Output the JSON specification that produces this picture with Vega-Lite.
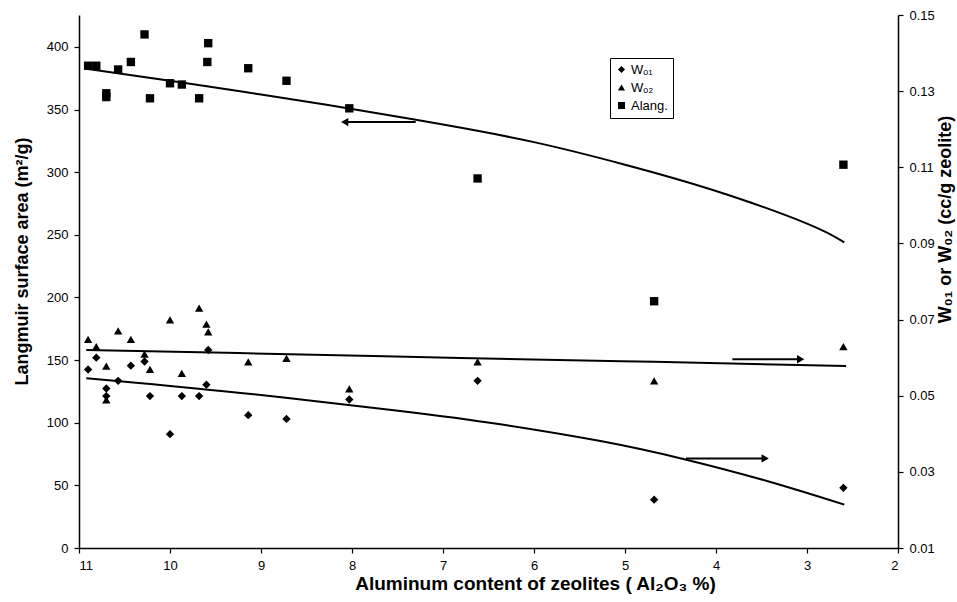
{
  "$schema": "https://vega.github.io/schema/vega-lite/v6.json",
  "width": 819,
  "height": 533,
  "autosize": {"type": "none"},
  "padding": {"left": 79, "top": 15, "right": 59, "bottom": 54},
  "background": "white",
  "config": {
    "view": {"stroke": null},
    "font": "Liberation Sans",
    "axis": {
      "grid": false,
      "domainColor": "black",
      "tickColor": "black",
      "labelColor": "black",
      "titleColor": "black",
      "labelFont": "Liberation Sans",
      "titleFont": "Liberation Sans",
      "labelFontSize": 13,
      "titleFontSize": 18,
      "titleFontWeight": "bold",
      "tickSize": 5,
      "domainWidth": 1.5,
      "tickWidth": 1.2
    }
  },
  "datasets": {
    "pts": [
      {"x": 10.90, "y": 385, "s": "Alang."},
      {"x": 10.81, "y": 385, "s": "Alang."},
      {"x": 10.70, "y": 360, "s": "Alang."},
      {"x": 10.70, "y": 363, "s": "Alang."},
      {"x": 10.57, "y": 382, "s": "Alang."},
      {"x": 10.43, "y": 388, "s": "Alang."},
      {"x": 10.28, "y": 410, "s": "Alang."},
      {"x": 10.22, "y": 359, "s": "Alang."},
      {"x": 10.00, "y": 371, "s": "Alang."},
      {"x": 9.87, "y": 370, "s": "Alang."},
      {"x": 9.68, "y": 359, "s": "Alang."},
      {"x": 9.59, "y": 388, "s": "Alang."},
      {"x": 9.58, "y": 403, "s": "Alang."},
      {"x": 9.14, "y": 383, "s": "Alang."},
      {"x": 8.72, "y": 373, "s": "Alang."},
      {"x": 8.03, "y": 351, "s": "Alang."},
      {"x": 6.62, "y": 295, "s": "Alang."},
      {"x": 4.68, "y": 197, "s": "Alang."},
      {"x": 2.60, "y": 306, "s": "Alang."}
    ],
    "wpts": [
      {"x": 10.90, "w": 0.0569, "s": "Wₒ₁"},
      {"x": 10.81, "w": 0.0600, "s": "Wₒ₁"},
      {"x": 10.70, "w": 0.0519, "s": "Wₒ₁"},
      {"x": 10.70, "w": 0.0499, "s": "Wₒ₁"},
      {"x": 10.57, "w": 0.0539, "s": "Wₒ₁"},
      {"x": 10.43, "w": 0.0579, "s": "Wₒ₁"},
      {"x": 10.28, "w": 0.0590, "s": "Wₒ₁"},
      {"x": 10.22, "w": 0.0499, "s": "Wₒ₁"},
      {"x": 10.00, "w": 0.0399, "s": "Wₒ₁"},
      {"x": 9.87, "w": 0.0499, "s": "Wₒ₁"},
      {"x": 9.68, "w": 0.0499, "s": "Wₒ₁"},
      {"x": 9.60, "w": 0.0529, "s": "Wₒ₁"},
      {"x": 9.58, "w": 0.0620, "s": "Wₒ₁"},
      {"x": 9.14, "w": 0.0449, "s": "Wₒ₁"},
      {"x": 8.72, "w": 0.0439, "s": "Wₒ₁"},
      {"x": 8.03, "w": 0.0490, "s": "Wₒ₁"},
      {"x": 6.62, "w": 0.0539, "s": "Wₒ₁"},
      {"x": 4.68, "w": 0.0227, "s": "Wₒ₁"},
      {"x": 2.60, "w": 0.0258, "s": "Wₒ₁"},
      {"x": 10.90, "w": 0.0648, "s": "Wₒ₂"},
      {"x": 10.81, "w": 0.0629, "s": "Wₒ₂"},
      {"x": 10.70, "w": 0.0578, "s": "Wₒ₂"},
      {"x": 10.70, "w": 0.0489, "s": "Wₒ₂"},
      {"x": 10.57, "w": 0.0670, "s": "Wₒ₂"},
      {"x": 10.43, "w": 0.0648, "s": "Wₒ₂"},
      {"x": 10.28, "w": 0.0609, "s": "Wₒ₂"},
      {"x": 10.22, "w": 0.0569, "s": "Wₒ₂"},
      {"x": 10.00, "w": 0.0699, "s": "Wₒ₂"},
      {"x": 9.87, "w": 0.0559, "s": "Wₒ₂"},
      {"x": 9.68, "w": 0.0730, "s": "Wₒ₂"},
      {"x": 9.60, "w": 0.0688, "s": "Wₒ₂"},
      {"x": 9.58, "w": 0.0668, "s": "Wₒ₂"},
      {"x": 9.14, "w": 0.0589, "s": "Wₒ₂"},
      {"x": 8.72, "w": 0.0598, "s": "Wₒ₂"},
      {"x": 8.03, "w": 0.0518, "s": "Wₒ₂"},
      {"x": 6.62, "w": 0.0589, "s": "Wₒ₂"},
      {"x": 4.68, "w": 0.0539, "s": "Wₒ₂"},
      {"x": 2.60, "w": 0.0629, "s": "Wₒ₂"}
    ],
    "afit": [
      {"x": 10.92, "y": 382.5},
      {"x": 10.0, "y": 373},
      {"x": 9.0, "y": 362},
      {"x": 8.0, "y": 350.5},
      {"x": 7.0, "y": 338},
      {"x": 6.0, "y": 324},
      {"x": 5.0, "y": 306},
      {"x": 4.0, "y": 285},
      {"x": 3.0, "y": 259},
      {"x": 2.59, "y": 244}
    ],
    "wfit": [
      {"x": 10.92, "w": 0.0546, "s": "1"},
      {"x": 9.25, "w": 0.0508, "s": "1"},
      {"x": 7.47, "w": 0.0460, "s": "1"},
      {"x": 6.37, "w": 0.0425, "s": "1"},
      {"x": 5.27, "w": 0.0381, "s": "1"},
      {"x": 4.36, "w": 0.0334, "s": "1"},
      {"x": 3.44, "w": 0.0276, "s": "1"},
      {"x": 2.59, "w": 0.0214, "s": "1"},
      {"x": 10.92, "w": 0.0620, "s": "2"},
      {"x": 9.25, "w": 0.0612, "s": "2"},
      {"x": 6.81, "w": 0.0599, "s": "2"},
      {"x": 4.68, "w": 0.0589, "s": "2"},
      {"x": 2.57, "w": 0.0578, "s": "2"}
    ],
    "arrows": [
      {"tail": 7.30, "head": 8.08, "y": 340, "dir": "triangle-left"},
      {"tail": 3.82, "head": 3.07, "y": 150.7, "dir": "triangle-right"},
      {"tail": 4.33, "head": 3.46, "y": 71.5, "dir": "triangle-right"}
    ]
  },
  "layer": [
    {
      "layer": [
        {
          "data": {"name": "pts"},
          "mark": {"type": "point", "filled": true, "color": "black", "opacity": 1, "size": 70},
          "encoding": {
            "x": {
              "field": "x", "type": "quantitative",
              "scale": {"domain": [2, 11], "reverse": true, "nice": false, "zero": false},
              "axis": {
                "values": [2, 3, 4, 5, 6, 7, 8, 9, 10, 11],
                "format": "d",
                "title": "Aluminum content of zeolites ( Al₂O₃ %)",
                "titleFontSize": 19,
                "labelPadding": 6,
                "titleX": 456,
                "titleY": 35,
                "titleBaseline": "middle"
              }
            },
            "y": {
              "field": "y", "type": "quantitative",
              "scale": {"domain": [0, 425.5], "nice": false, "zero": false},
              "axis": {
                "values": [0, 50, 100, 150, 200, 250, 300, 350, 400],
                "title": "Langmuir surface area (m²/g)",
                "labelPadding": 6,
                "titleX": -57,
                "titleY": 246,
                "titleBaseline": "middle"
              }
            },
            "shape": {
              "field": "s", "type": "nominal",
              "scale": {"domain": ["Wₒ₁", "Wₒ₂", "Alang."], "range": ["diamond", "triangle-up", "square"]},
              "legend": {
                "title": null,
                "orient": "none",
                "legendX": 531,
                "legendY": 43,
                "strokeColor": "black",
                "fillColor": "white",
                "padding": 5,
                "labelFont": "Liberation Sans",
                "labelFontSize": 13,
                "labelColor": "black",
                "symbolSize": 50,
                "symbolFillColor": "black",
                "symbolStrokeColor": "black",
                "symbolStrokeWidth": 0,
                "rowPadding": 4,
                "labelOffset": 3
              }
            }
          }
        },
        {
          "data": {"name": "afit"},
          "mark": {"type": "line", "color": "black", "strokeWidth": 2, "interpolate": "natural"},
          "encoding": {
            "x": {"field": "x", "type": "quantitative"},
            "y": {"field": "y", "type": "quantitative"}
          }
        },
        {
          "data": {"name": "arrows"},
          "mark": {"type": "rule", "color": "black", "strokeWidth": 2},
          "encoding": {
            "x": {"field": "tail", "type": "quantitative"},
            "x2": {"field": "head"},
            "y": {"field": "y", "type": "quantitative"}
          }
        },
        {
          "data": {"name": "arrows"},
          "mark": {"type": "point", "filled": true, "color": "black", "opacity": 1, "size": 70},
          "encoding": {
            "x": {"field": "head", "type": "quantitative"},
            "y": {"field": "y", "type": "quantitative"},
            "shape": {"field": "dir", "type": "nominal", "scale": null}
          }
        }
      ]
    },
    {
      "layer": [
        {
          "data": {"name": "wpts"},
          "mark": {"type": "point", "filled": true, "color": "black", "opacity": 1, "size": 70},
          "encoding": {
            "x": {"field": "x", "type": "quantitative"},
            "y": {
              "field": "w", "type": "quantitative",
              "scale": {"domain": [0.01, 0.15], "nice": false, "zero": false},
              "axis": {
                "orient": "right",
                "values": [0.01, 0.03, 0.05, 0.07, 0.09, 0.11, 0.13, 0.15],
                "format": ".2f",
                "title": "W₀₁ or W₀₂ (cc/g zeolite)",
                "labelPadding": 6,
                "titleAngle": 270,
                "titleX": 47,
                "titleY": 204,
                "titleBaseline": "middle"
              }
            },
            "shape": {"field": "s", "type": "nominal"}
          }
        },
        {
          "data": {"name": "wfit"},
          "mark": {"type": "line", "color": "black", "strokeWidth": 2, "interpolate": "natural"},
          "encoding": {
            "x": {"field": "x", "type": "quantitative"},
            "y": {"field": "w", "type": "quantitative"},
            "detail": {"field": "s", "type": "nominal"}
          }
        }
      ]
    }
  ],
  "resolve": {"scale": {"y": "independent"}}
}
